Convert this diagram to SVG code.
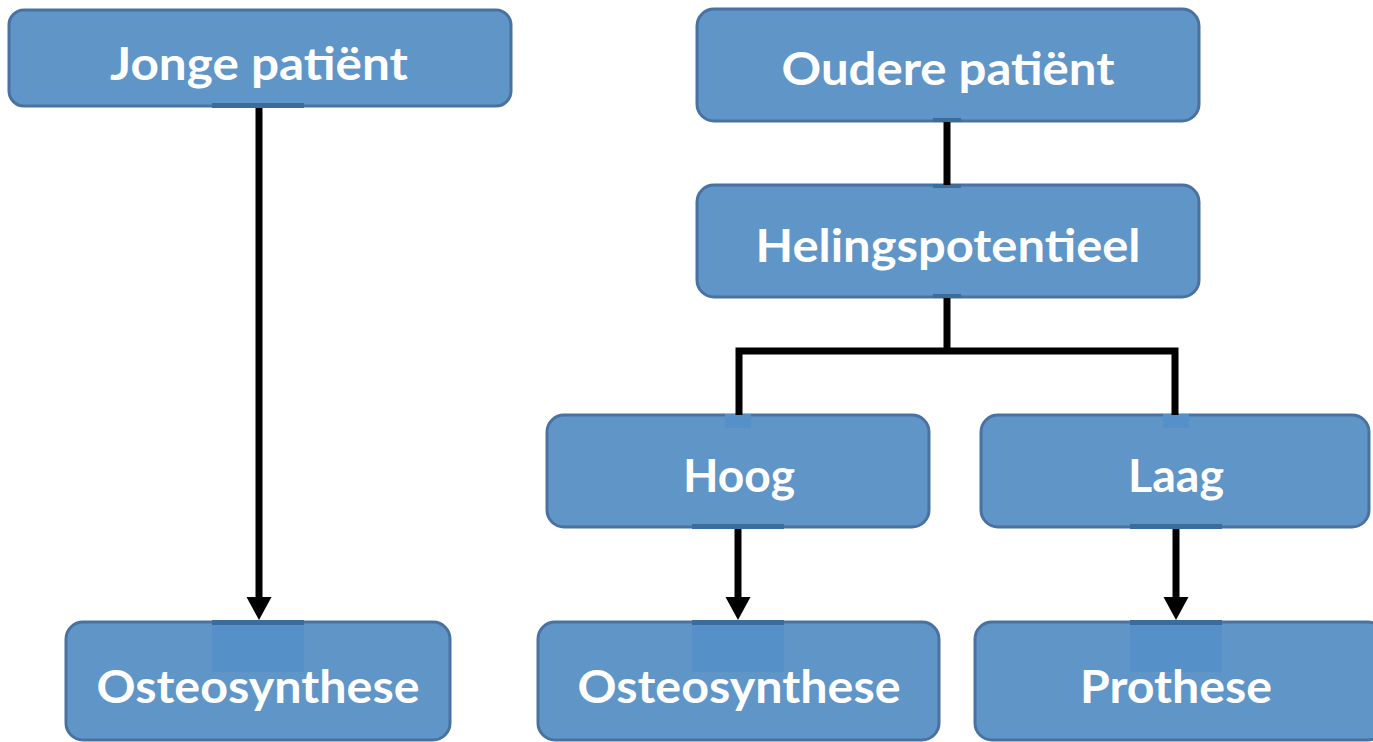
<svg xmlns="http://www.w3.org/2000/svg" width="1373" height="742" viewBox="0 0 1373 742">
<style>
.box{fill:#6095c8;stroke:#4a72a0;stroke-width:3}
.strip{fill:#3a6d9c}
.glow{fill:#5590c8}
.lbl{font-family:Lato,"Open Sans","Liberation Sans",sans-serif;font-weight:bold;font-size:46px;fill:#ffffff;text-anchor:middle}
.ln{stroke:#000;stroke-width:7;fill:none}
</style>
<defs>
<marker id="arr" markerUnits="userSpaceOnUse" markerWidth="26" markerHeight="26" refX="8" refY="12.5" orient="auto" viewBox="0 0 26 26">
<path d="M0,0 L23,12.5 L0,25 Z" fill="#000"/>
</marker>
</defs>
<rect width="1373" height="742" fill="#fff"/>
<g id="n-jonge">
<rect class="box" x="9" y="10" width="502" height="96" rx="15"/>
<rect class="strip" x="212" y="103" width="92" height="5"/>
<text class="lbl" x="259" y="80" textLength="298" lengthAdjust="spacingAndGlyphs">Jonge patiënt</text>
</g>
<g id="n-oudere">
<rect class="box" x="697" y="9" width="502" height="112" rx="17"/>
<rect class="strip" x="933" y="118" width="28" height="4"/>
<text class="lbl" x="948" y="85" textLength="333" lengthAdjust="spacingAndGlyphs">Oudere patiënt</text>
</g>
<g id="n-heling">
<rect class="box" x="697" y="185" width="502" height="112" rx="17"/>
<rect class="strip" x="933" y="184" width="28" height="4"/>
<rect class="strip" x="933" y="294" width="28" height="4"/>
<text class="lbl" x="948" y="262" textLength="385" lengthAdjust="spacingAndGlyphs">Helingspotentieel</text>
</g>
<g id="n-hoog">
<rect class="box" x="547" y="415" width="382" height="112" rx="17"/>
<rect class="glow" x="725" y="414" width="26" height="14"/>
<rect class="strip" x="692" y="524" width="92" height="5"/>
<text class="lbl" x="739" y="492" textLength="112" lengthAdjust="spacingAndGlyphs">Hoog</text>
</g>
<g id="n-laag">
<rect class="box" x="981" y="415" width="388" height="112" rx="17"/>
<rect class="glow" x="1163" y="414" width="26" height="14"/>
<rect class="strip" x="1130" y="524" width="92" height="5"/>
<text class="lbl" x="1176" y="492" textLength="96" lengthAdjust="spacingAndGlyphs">Laag</text>
</g>
<g id="n-osteo1">
<rect class="box" x="66" y="622" width="384" height="118" rx="17"/>
<rect class="glow" x="212" y="622" width="92" height="50"/>
<rect class="strip" x="212" y="620" width="92" height="5"/>
<text class="lbl" x="258" y="703" textLength="323" lengthAdjust="spacingAndGlyphs">Osteosynthese</text>
</g>
<g id="n-osteo2">
<rect class="box" x="538" y="622" width="401" height="118" rx="17"/>
<rect class="glow" x="692" y="622" width="92" height="50"/>
<rect class="strip" x="692" y="620" width="92" height="5"/>
<text class="lbl" x="739" y="703" textLength="323" lengthAdjust="spacingAndGlyphs">Osteosynthese</text>
</g>
<g id="n-prothese">
<rect class="box" x="975" y="622" width="410" height="118" rx="17"/>
<rect class="glow" x="1130" y="622" width="92" height="50"/>
<rect class="strip" x="1130" y="620" width="92" height="5"/>
<text class="lbl" x="1176" y="703" textLength="192" lengthAdjust="spacingAndGlyphs">Prothese</text>
</g>
<g id="connectors">
<line class="ln" x1="259" y1="108" x2="259" y2="605" marker-end="url(#arr)"/>
<line class="ln" x1="947" y1="122" x2="947" y2="185"/>
<line class="ln" x1="947" y1="298" x2="947" y2="351"/>
<polyline class="ln" points="739,415 739,351 1175,351 1175,415" stroke-width="8"/>
<line class="ln" x1="738" y1="529" x2="738" y2="605" marker-end="url(#arr)"/>
<line class="ln" x1="1176" y1="529" x2="1176" y2="605" marker-end="url(#arr)"/>
</g>
</svg>
